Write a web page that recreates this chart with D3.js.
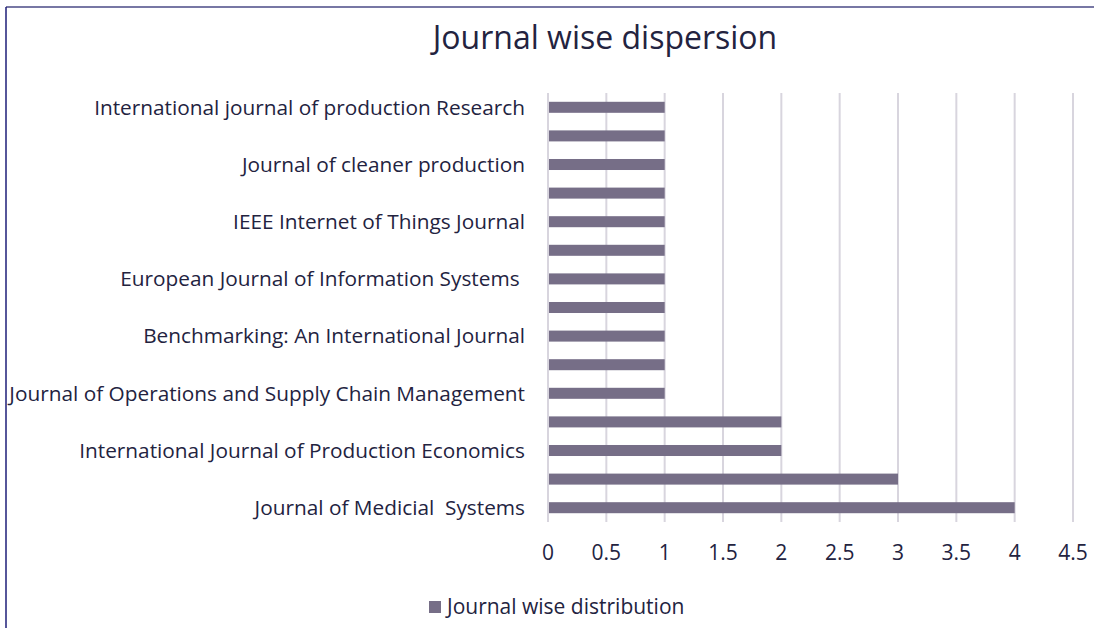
<!DOCTYPE html>
<html>
<head>
<meta charset="utf-8">
<script src="https://cdn.jsdelivr.net/npm/d3@7"></script>
<style>
body { margin:0; background:#fff; }
svg text { font-family: "Open Sans", sans-serif; fill:#23233f; }
</style>
</head>
<body>
<div id="chart"></div>
<script>
// categories listed bottom to top, as in the source sheet; null = label not shown on the axis
var journals = [
	"Journal of Medicial  Systems", null,
	"International Journal of Production Economics", null,
	"Journal of Operations and Supply Chain Management", null,
	"Benchmarking: An International Journal", null,
	"European Journal of Information Systems ", null,
	"IEEE Internet of Things Journal", null,
	"Journal of cleaner production", null,
	"International journal of production Research"
];
var counts = [4, 3, 2, 2, 1, 1, 1, 1, 1, 1, 1, 1, 1, 1, 1];
var xTicks = [0, 0.5, 1, 1.5, 2, 2.5, 3, 3.5, 4, 4.5];
var seriesName = "Journal wise distribution";
var chartTitle = "Journal wise dispersion";

var W = 1094, H = 628;
var plotL = 548, plotR = 1073, plotT = 93, plotB = 522;
var barCol = "#766e87", gridCol = "#d8d5de";

var svg = d3.select("#chart").append("svg").attr("width", W).attr("height", H);

//frame lines (only top and left visible in the picture)
svg.append("line").attr("x1",6).attr("y1",7).attr("x2",W).attr("y2",7)
	.attr("stroke","#4a4a86").attr("stroke-width",1.5);
svg.append("line").attr("x1",6).attr("y1",7).attr("x2",6).attr("y2",H)
	.attr("stroke","#1e1e78").attr("stroke-width",1.5);

svg.append("text").attr("x",605).attr("y",49).attr("text-anchor","middle")
	.style("font-size","32px").text(chartTitle);

var idx = d3.range(journals.length);
var x = d3.scaleLinear().domain([0, 4.5]).range([plotL, plotR]);
var y = d3.scaleBand().domain(idx).range([plotB, plotT]).paddingInner(0.615).paddingOuter(0.3075);

//gridlines
svg.append("g").selectAll("line").data(xTicks).enter().append("line")
	.attr("x1", function(d){return x(d)}).attr("x2", function(d){return x(d)})
	.attr("y1", plotT).attr("y2", plotB)
	.attr("stroke", gridCol).attr("stroke-width", 2);

//bars
svg.append("g").selectAll("rect").data(idx).enter().append("rect")
	.attr("x", x(0) + 1)
	.attr("y", function(i){return y(i)})
	.attr("width", function(i){return x(counts[i]) - x(0) - 1})
	.attr("height", y.bandwidth())
	.attr("fill", barCol);

//category labels
svg.append("g").selectAll("text").data(idx.filter(function(i){return journals[i] !== null})).enter().append("text")
	.attr("x", 525)
	.attr("y", function(i){return y(i) + y.bandwidth()/2})
	.attr("dy", "0.35em")
	.attr("text-anchor", "end")
	.style("font-size", "20.8px")
	.style("white-space", "pre")
	.text(function(i){return journals[i]});

//value axis labels
svg.append("g").selectAll("text").data(xTicks).enter().append("text")
	.attr("x", function(d){return x(d)})
	.attr("y", 553).attr("dy","0.35em")
	.attr("text-anchor","middle")
	.style("font-size","21px")
	.text(function(d){return d});

//legend
svg.append("rect").attr("x",429).attr("y",601).attr("width",12).attr("height",12).attr("fill",barCol);
svg.append("text").attr("x",447).attr("y",607).attr("dy","0.35em")
	.style("font-size","21px").text(seriesName);
</script>
</body>
</html>
